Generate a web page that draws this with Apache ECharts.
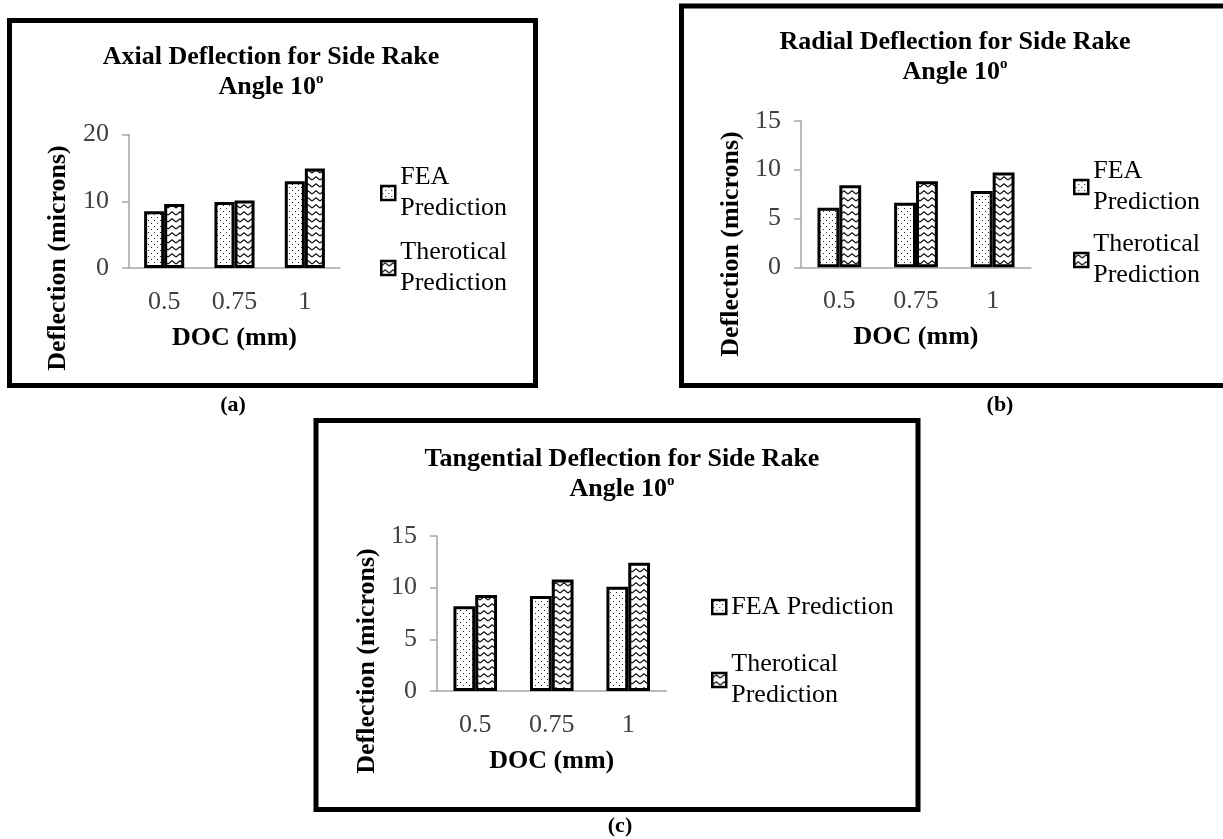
<!DOCTYPE html>
<html>
<head>
<meta charset="utf-8">
<title>Deflection for Side Rake Angle 10°</title>
<script src="https://cdn.jsdelivr.net/npm/echarts@6/dist/echarts.min.js"></script>
<style>
  html, body { margin: 0; padding: 0; background: #ffffff; }
  #chart { width: 1223px; height: 839px; }
</style>
</head>
<body>
<div id="chart"></div>
<script>
// Depth of cut (mm) categories shared by all three charts
const categories = ['0.5', '0.75', '1'];
const seriesNames = ['FEA Prediction', 'Therotical Prediction'];

// Deflection values in microns
const axialFEA = [8.5, 9.9, 13.0];
const axialTheoretical = [9.6, 10.1, 14.9];
const radialFEA = [6.1, 6.6, 7.8];
const radialTheoretical = [8.4, 8.8, 9.7];
const tangentialFEA = [8.2, 9.2, 10.1];
const tangentialTheoretical = [9.3, 10.8, 12.4];

// Value-axis tick labels
const axialTicks = [0, 10, 20];
const radialTicks = [0, 5, 10, 15];
const tangentialTicks = [0, 5, 10, 15];

const FONT = '"Liberation Serif", "Times New Roman", "DejaVu Serif", serif';

// Fill patterns: fine dots for FEA, stacked zigzags for the theoretical values
function dotPattern() {
  const c = document.createElement('canvas');
  c.width = 6; c.height = 6;
  const g = c.getContext('2d');
  g.fillStyle = '#ffffff'; g.fillRect(0, 0, 6, 6);
  g.fillStyle = '#222222';
  g.fillRect(1, 1, 1, 1);
  g.fillRect(4, 4, 1, 1);
  return c;
}
function zigzagPattern() {
  const c = document.createElement('canvas');
  c.width = 8; c.height = 7;
  const g = c.getContext('2d');
  g.fillStyle = '#ffffff'; g.fillRect(0, 0, 8, 7);
  g.strokeStyle = '#111111'; g.lineWidth = 1.3;
  g.beginPath();
  g.moveTo(0, 5); g.lineTo(4, 1.8); g.lineTo(8, 5);
  g.stroke();
  return c;
}
const dotFill = { image: dotPattern(), repeat: 'repeat' };
const zigFill = { image: zigzagPattern(), repeat: 'repeat' };

function ticksToAxis(ticks) {
  return { min: ticks[0], max: ticks[ticks.length - 1], interval: ticks[1] - ticks[0] };
}

function barSeries(name, data, idx, fill) {
  return {
    type: 'bar', name: name, data: data,
    xAxisIndex: idx, yAxisIndex: idx,
    barGap: '0%', barCategoryGap: '43%',
    itemStyle: { color: fill, borderColor: '#000000', borderWidth: 3 },
    emphasis: { disabled: true }
  };
}

function xAxisFor(idx) {
  return {
    type: 'category', gridIndex: idx, data: categories,
    axisLine: { lineStyle: { color: '#a6a6a6', width: 1.5 } },
    axisTick: { show: false },
    axisLabel: { fontFamily: FONT, fontSize: 26, color: '#404040', margin: 21 },
    name: 'DOC (mm)', nameLocation: 'middle', nameGap: 57,
    nameTextStyle: { fontFamily: FONT, fontSize: 26, fontWeight: 'bold', color: '#000000' }
  };
}

function yAxisFor(idx, ticks) {
  return Object.assign({
    type: 'value', gridIndex: idx,
    axisLine: { show: true, lineStyle: { color: '#a6a6a6', width: 1.5 } },
    axisTick: { show: true, length: 7, lineStyle: { color: '#a6a6a6', width: 1.5 } },
    splitLine: { show: false },
    axisLabel: { fontFamily: FONT, fontSize: 26, color: '#404040', margin: 20 }
  }, ticksToAxis(ticks));
}

function titleFor(text, cx, top) {
  return {
    text: text + '\nAngle 10{sup|o}',
    left: cx, top: top, textAlign: 'center', padding: 0,
    textStyle: {
      fontFamily: FONT, fontSize: 26, fontWeight: 'bold', color: '#000000', lineHeight: 30,
      rich: { sup: { fontFamily: FONT, fontSize: 15, fontWeight: 'bold', color: '#000000', verticalAlign: 'top', lineHeight: 30 } }
    }
  };
}

const wrapped = { 'FEA Prediction': 'FEA\nPrediction', 'Therotical Prediction': 'Therotical\nPrediction' };
const legendText = { fontFamily: FONT, fontSize: 26, color: '#000000', lineHeight: 31 };
const legendIcon = { borderWidth: 2.5, borderColor: '#000000' };

function twoLineLegend(left, top, gap) {
  return {
    orient: 'vertical', left: left, top: top, padding: 0,
    icon: 'rect', itemWidth: 14, itemHeight: 14, itemGap: gap,
    selectedMode: false,
    data: seriesNames,
    formatter: function (n) { return wrapped[n]; },
    itemStyle: legendIcon,
    textStyle: Object.assign({ padding: [31, 0, 0, 0] }, legendText)
  };
}

function yTitle(x, y) {
  return {
    type: 'text', x: x, y: y, rotation: Math.PI / 2,
    style: { text: 'Deflection (microns)', fontFamily: FONT, fontSize: 26, fontWeight: 'bold', fill: '#000000', align: 'center', verticalAlign: 'middle' }
  };
}
function panelBox(x, y, w, h) {
  return { type: 'rect', shape: { x: x, y: y, width: w, height: h }, style: { fill: 'none', stroke: '#000000', lineWidth: 5 }, z: 1 };
}
function caption(text, x, y) {
  return { type: 'text', x: x, y: y, style: { text: text, fontFamily: FONT, fontSize: 22, fontWeight: 'bold', fill: '#000000', align: 'center', verticalAlign: 'middle' } };
}

const chart = echarts.init(document.getElementById('chart'), null, { renderer: 'canvas' });
chart.setOption({
  animation: false,
  backgroundColor: '#ffffff',
  title: [
    titleFor('Axial Deflection for Side Rake', 271, 42),
    titleFor('Radial Deflection for Side Rake', 955, 27),
    titleFor('Tangential Deflection for Side Rake', 622, 444)
  ],
  grid: [
    { left: 129, top: 134.5, width: 211, height: 133.5 },
    { left: 801, top: 120.7, width: 230, height: 146.6 },
    { left: 437, top: 536, width: 229.5, height: 155 }
  ],
  xAxis: [xAxisFor(0), xAxisFor(1), xAxisFor(2)],
  yAxis: [yAxisFor(0, axialTicks), yAxisFor(1, radialTicks), yAxisFor(2, tangentialTicks)],
  legend: [
    twoLineLegend(380, 146.5, -18),
    twoLineLegend(1073, 140.5, -20),
    {
      orient: 'vertical', left: 711, top: 591.5, padding: 0,
      icon: 'rect', itemWidth: 14, itemHeight: 14, itemGap: 11,
      selectedMode: false,
      data: [
        { name: 'FEA Prediction', textStyle: { padding: 0 } },
        { name: 'Therotical Prediction', textStyle: { padding: [31, 0, 0, 0] } }
      ],
      formatter: function (n) { return n === 'FEA Prediction' ? n : wrapped[n]; },
      itemStyle: legendIcon,
      textStyle: legendText
    }
  ],
  series: [
    barSeries(seriesNames[0], axialFEA, 0, dotFill),
    barSeries(seriesNames[1], axialTheoretical, 0, zigFill),
    barSeries(seriesNames[0], radialFEA, 1, dotFill),
    barSeries(seriesNames[1], radialTheoretical, 1, zigFill),
    barSeries(seriesNames[0], tangentialFEA, 2, dotFill),
    barSeries(seriesNames[1], tangentialTheoretical, 2, zigFill)
  ],
  graphic: [
    panelBox(9.5, 20.5, 526, 365),
    panelBox(681.5, 6, 550, 379.5),
    panelBox(316, 420.5, 602, 389),
    yTitle(58, 258),
    yTitle(731, 244),
    yTitle(367, 661),
    caption('(a)', 233, 405),
    caption('(b)', 1000, 405),
    caption('(c)', 620, 826)
  ]
});
</script>
</body>
</html>
